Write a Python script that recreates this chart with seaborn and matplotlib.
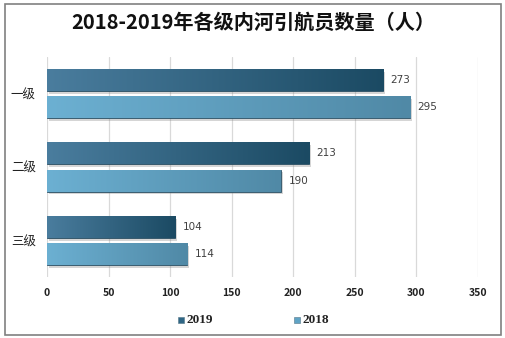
import numpy as np
import pandas as pd
import matplotlib
matplotlib.use("Agg")
import matplotlib.pyplot as plt
import matplotlib.patheffects as pe
from matplotlib.colors import LinearSegmentedColormap
from matplotlib.patches import Rectangle
import seaborn as sns

categories = ["一级", "二级", "三级"]
years = ["2019", "2018"]
values_2019 = [273, 213, 104]
values_2018 = [295, 190, 114]
xticks = [0, 50, 100, 150, 200, 250, 300, 350]
title = "2018-2019年各级内河引航员数量（人）"

sns.set_theme(style="white")
plt.rcParams['font.family'] = ['Noto Sans CJK SC', 'DejaVu Sans']

df = pd.DataFrame({
    "cat": categories * 2,
    "year": [years[0]] * 3 + [years[1]] * 3,
    "val": values_2019 + values_2018,
})

colors = {"2019": "#2f6685", "2018": "#5fa3c5"}
grads = {"2019": ("#4a7d9e", "#1b4a63"), "2018": ("#6cb0d2", "#5089a6")}

fig = plt.figure(figsize=(5.06, 3.38), dpi=100)
ax = fig.add_axes([47/506, 61/338, 431/506, 220/338])

sns.barplot(data=df, y="cat", x="val", hue="year", hue_order=years,
            order=categories, palette=colors, orient="h",
            width=0.74, gap=0.19, ax=ax, legend=False, zorder=3)

ax.set_xlim(0, 350)
ax.set_ylim(2.5, -0.5)
ax.set_xticks(xticks)
ax.set_xticklabels([str(t) for t in xticks], fontsize=7.5, fontweight="bold",
                   color="#222222")
ax.set_yticks(range(3))
ax.set_yticklabels(categories, fontsize=9, color="#222222")
ax.tick_params(axis="x", length=0, pad=8)
ax.tick_params(axis="y", length=0, pad=8)
ax.set_xlabel("")
ax.set_ylabel("")
for s in ax.spines.values():
    s.set_visible(False)
ax.grid(axis="x", color="#d9d9d9", linewidth=0.9, zorder=0)
ax.set_axisbelow(True)

# gradient fill + shadow + labels
for container, yr in zip(ax.containers, years):
    for bar, v in zip(container, df[df.year == yr].val):
        x0, y0 = bar.get_x(), bar.get_y()
        w, h = bar.get_width(), bar.get_height()
        c0, c1 = grads[yr]
        cmap = LinearSegmentedColormap.from_list("g", [c0, c1])
        bar.set_edgecolor("#2a4f63")
        bar.set_linewidth(0.6)
        bar.set_path_effects([pe.SimplePatchShadow(offset=(1.5, -2), alpha=0.35,
                                                    shadow_rgbFace="#888888"),
                              pe.Normal()])
        im = ax.imshow(np.linspace(0, 1, 256).reshape(1, -1), cmap=cmap,
                       extent=[x0, x0 + w, y0 + h, y0], aspect="auto",
                       zorder=3.5, interpolation="bilinear")
        im.set_clip_path(bar)
        ax.text(x0 + w + 6, y0 + h / 2, str(v), va="center", ha="left",
                fontsize=7.5, color="#404040", family="DejaVu Sans")
ax.set_xlim(0, 350)
ax.set_ylim(2.5, -0.5)

fig.text(0.5, 0.935, title, ha="center", va="center", fontsize=14.5,
         fontweight="bold", color="#111111")

# legend
for lx, yr in [(187/506, "2019"), (303/506, "2018")]:
    fig.patches.append(Rectangle((lx - 0.0175, 0.045), 0.012, 0.018,
                                 transform=fig.transFigure,
                                 facecolor=colors[yr], edgecolor="#557788",
                                 linewidth=0.4))
    fig.text(lx, 0.054, yr, ha="left", va="center", fontsize=9.5,
             fontweight="bold", family="Liberation Serif", color="#222222")

# outer border
fig.patches.append(Rectangle((5/506, 3/338), 496/506, 331/338,
                             transform=fig.transFigure, fill=False,
                             edgecolor="#808080", linewidth=1.2))

fig.savefig("out.png", dpi=100)
